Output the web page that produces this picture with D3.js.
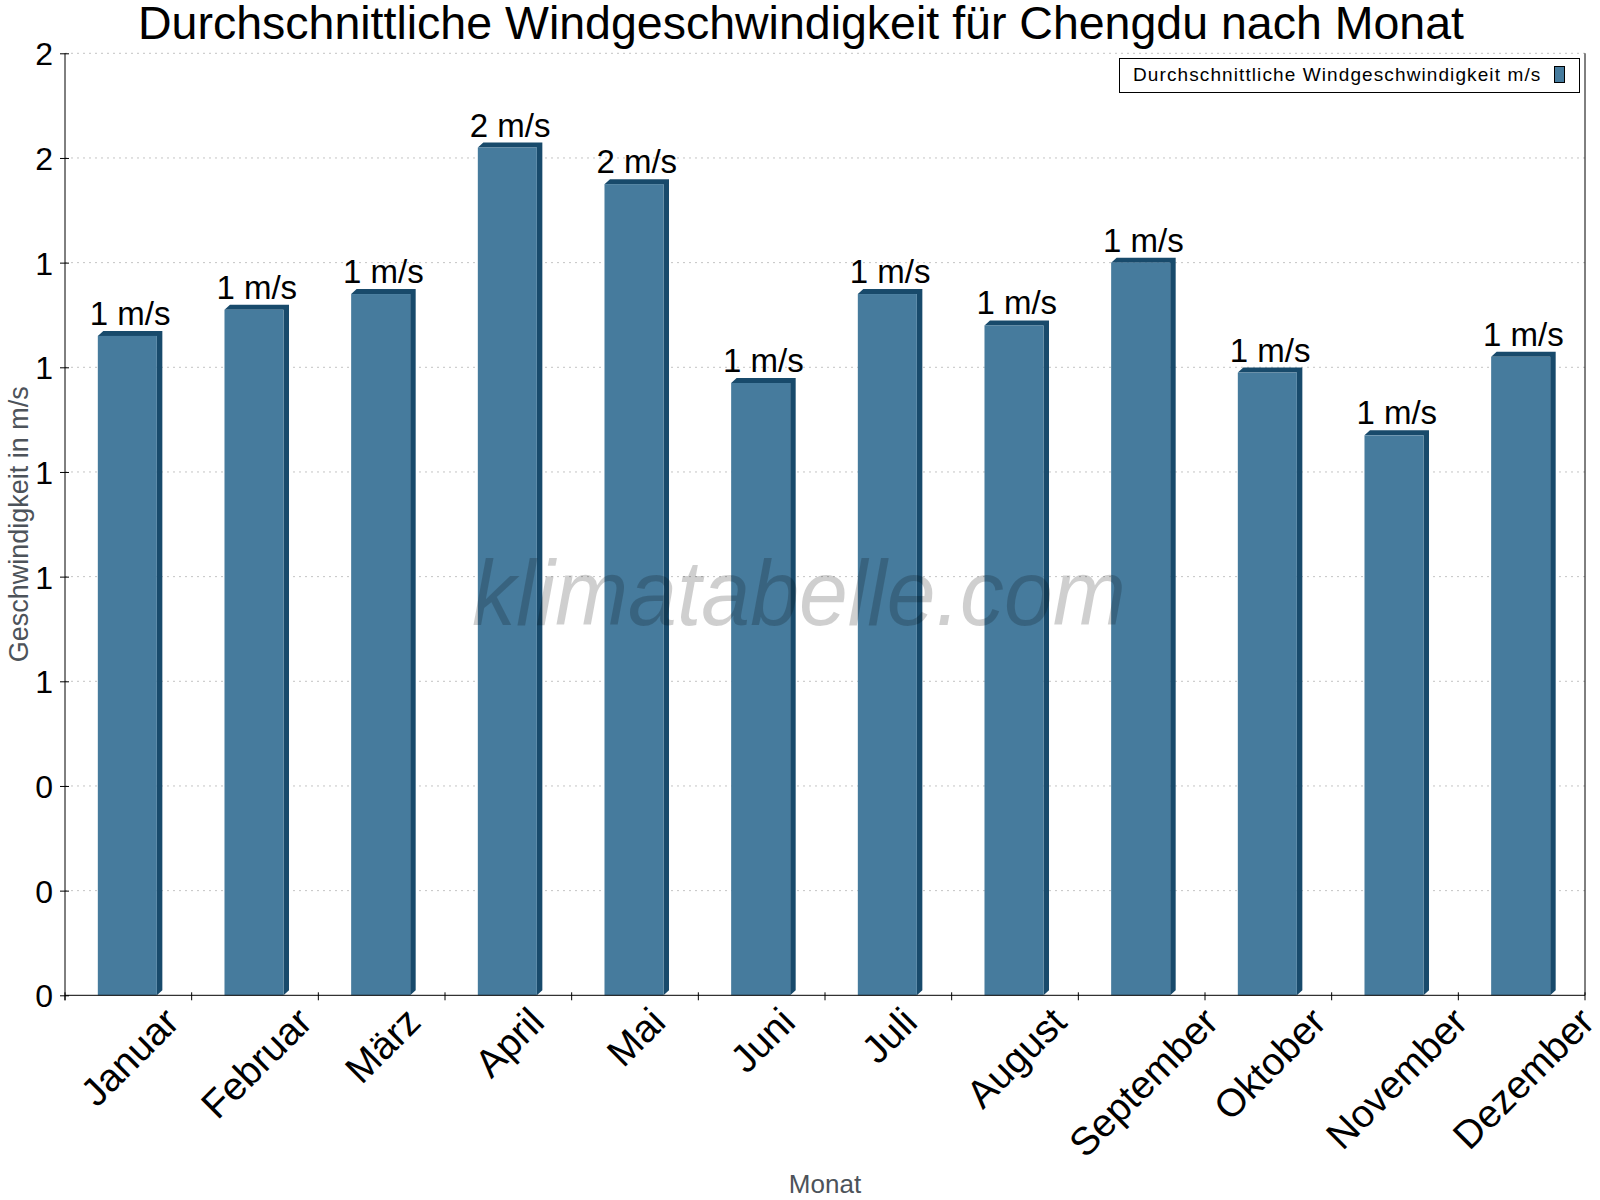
<!DOCTYPE html>
<html><head><meta charset="utf-8">
<script src="https://cdn.jsdelivr.net/npm/d3@7"></script>
<style>body{margin:0;background:#fff}svg{display:block}text{font-family:"Liberation Sans",Arial,sans-serif}</style>
</head><body>
<svg id="c" width="1600" height="1200"></svg>
<script>
const months = ["Januar","Februar","März","April","Mai","Juni","Juli","August","September","Oktober","November","Dezember"];
const windSpeed = [1.26,1.31,1.34,1.62,1.55,1.17,1.34,1.28,1.40,1.19,1.07,1.22];
const yTicks = [0,0.2,0.4,0.6,0.8,1.0,1.2,1.4,1.6,1.8];
const titleText = "Durchschnittliche Windgeschwindigkeit für Chengdu nach Monat";
const legendText = "Durchschnittliche Windgeschwindigkeit m/s";
const yTitle = "Geschwindigkeit in m/s";
const xTitle = "Monat";
const unit = "m/s";

const svg = d3.select("#c");
const L = 65, R = 1585, T = 53.3, B = 995.3;
const x = d3.scaleBand().domain(months).range([L, R]).paddingInner(0).paddingOuter(0);
const y = d3.scaleLinear().domain([0, 1.8]).range([B, T]);
const front = "#467b9d", dark = "#184a6b";
const dx = 5.5, dy = 5;

// grid
svg.append("g").selectAll("line").data(yTicks.filter(d => d > 0)).join("line")
  .attr("x1", L).attr("x2", R).attr("y1", d => y(d)).attr("y2", d => y(d))
  .attr("stroke", "#c4c4c4").attr("stroke-width", 1).attr("stroke-dasharray", "2,4");

// bars
const bw = x.bandwidth() * 0.466;
const bx0 = m => x(m) + (x.bandwidth() - bw) / 2 - 1;
const bars = svg.append("g").selectAll("g").data(months.map((m, i) => ({m, v: windSpeed[i]}))).join("g");
bars.append("path").attr("fill", dark).attr("d", d => {
  const x0 = bx0(d.m), x1 = x0 + bw, yt = y(d.v), y0 = y(0);
  return `M${x0},${yt} L${x0 + dx},${yt - dy} L${x1 + dx},${yt - dy} L${x1 + dx},${y0 - dy} L${x1},${y0} L${x1},${yt} Z`;
});
bars.append("rect").attr("fill", front)
  .attr("x", d => bx0(d.m)).attr("width", bw)
  .attr("y", d => y(d.v)).attr("height", d => y(0) - y(d.v));
bars.append("text").attr("text-anchor", "middle").attr("font-size", 33).attr("fill", "#000")
  .attr("x", d => bx0(d.m) + (bw + dx) / 2)
  .attr("y", d => y(d.v) - dy - 6)
  .text(d => Math.round(d.v) + " " + unit);

// axes
const yAxis = d3.axisLeft(y).tickValues(yTicks).tickFormat(d => String(Math.round(d))).tickSize(5).tickPadding(7);
const gy = svg.append("g").attr("transform", `translate(${L},0)`).call(yAxis);
gy.select(".domain").attr("d", `M0,${T}V${B + 5}`).attr("stroke", "#000");
gy.selectAll(".tick line").attr("x1", 4).attr("x2", -5).attr("stroke", "#000");
gy.selectAll(".tick text").attr("font-size", 32).attr("font-family", "Liberation Sans, Arial").attr("fill", "#000").attr("dy", "0.36em");

const gx = svg.append("g").attr("transform", `translate(0,${B})`);
gx.append("line").attr("x1", L).attr("x2", R).attr("y1", 0).attr("y2", 0).attr("stroke", "#000");
const bounds = months.map(m => x(m)).concat([R]);
gx.selectAll("line.t").data(bounds).join("line").attr("class", "t")
  .attr("x1", d => d).attr("x2", d => d).attr("y1", -3).attr("y2", 5).attr("stroke", "#000");
// right border
svg.append("line").attr("x1", R).attr("x2", R).attr("y1", T).attr("y2", B).attr("stroke", "#000");

const xl = gx.selectAll("text.xl").data(months).join("text").attr("class", "xl")
  .attr("font-size", 39).attr("fill", "#000").attr("text-anchor", "end").text(d => d);
xl.each(function(d) {
  const len = this.getComputedTextLength();
  const bx = x(d) + x.bandwidth() / 2 + 0.36 * len + 10;
  d3.select(this).attr("transform", `translate(${bx},29) rotate(-45)`);
});

// axis titles
svg.append("text").attr("transform", `translate(28,${(T + B) / 2}) rotate(-90)`).attr("text-anchor", "middle")
  .attr("font-size", 27).attr("fill", "#4d535a").text(yTitle);
svg.append("text").attr("x", (L + R) / 2).attr("y", 1193).attr("text-anchor", "middle")
  .attr("font-size", 26).attr("fill", "#4d535a").text(xTitle);

// title
svg.append("text").attr("x", 801).attr("y", 39).attr("text-anchor", "middle")
  .attr("font-size", 46.5).attr("fill", "#000").text(titleText);

// legend
const lg = svg.append("g");
lg.append("rect").attr("x", 1119.5).attr("y", 58.5).attr("width", 460).attr("height", 34)
  .attr("fill", "#fff").attr("stroke", "#000");
lg.append("text").attr("x", 1133).attr("y", 81).attr("font-size", 19).attr("letter-spacing", 1.1)
  .attr("fill", "#000").text(legendText);
lg.append("rect").attr("x", 1554.5).attr("y", 66.5).attr("width", 10).attr("height", 16)
  .attr("fill", front).attr("stroke", "#000");

// watermark
svg.append("text").attr("x", 799).attr("y", 625).attr("text-anchor", "middle")
  .attr("font-family", "Roboto").attr("font-weight", 300).attr("font-style", "italic")
  .attr("font-size", 92).attr("fill", "#000").attr("fill-opacity", 0.19)
  .attr("textLength", 654).attr("lengthAdjust", "spacingAndGlyphs").text("klimatabelle.com");
</script>
</body></html>
